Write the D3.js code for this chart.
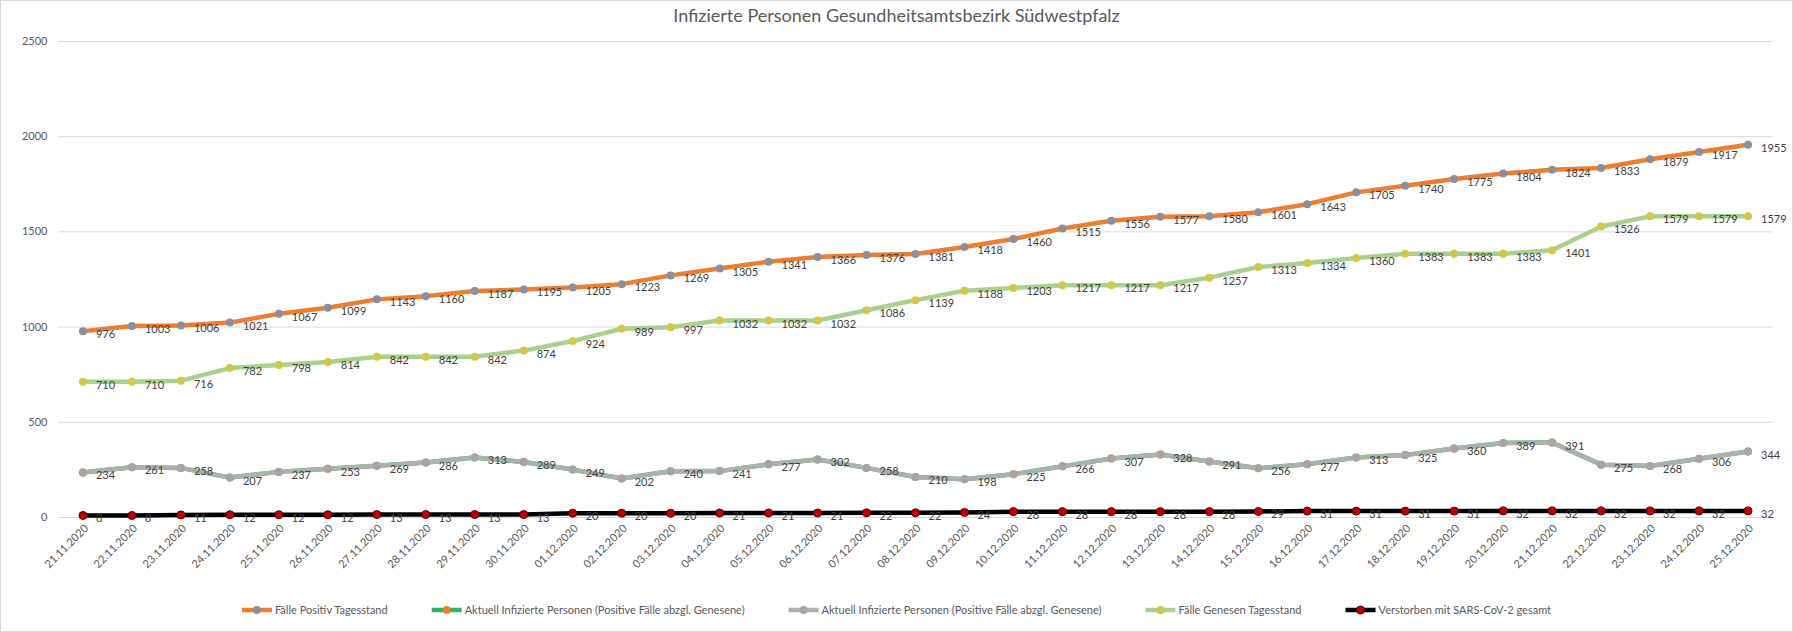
<!DOCTYPE html>
<html><head><meta charset="utf-8">
<script src="https://cdn.jsdelivr.net/npm/d3@7"></script>
<style>
html,body{margin:0;padding:0;background:#fff;}
svg{display:block;font-family:Lato,"Open Sans",sans-serif;}
</style></head>
<body><svg id="chart" width="1793" height="632"></svg>
<script>
const title = "Infizierte Personen Gesundheitsamtsbezirk Südwestpfalz";
const dates = ["21.11.2020","22.11.2020","23.11.2020","24.11.2020","25.11.2020","26.11.2020","27.11.2020","28.11.2020","29.11.2020","30.11.2020",
"01.12.2020","02.12.2020","03.12.2020","04.12.2020","05.12.2020","06.12.2020","07.12.2020","08.12.2020","09.12.2020","10.12.2020",
"11.12.2020","12.12.2020","13.12.2020","14.12.2020","15.12.2020","16.12.2020","17.12.2020","18.12.2020","19.12.2020","20.12.2020",
"21.12.2020","22.12.2020","23.12.2020","24.12.2020","25.12.2020"];
const positiv = [976,1003,1006,1021,1067,1099,1143,1160,1187,1195,1205,1223,1269,1305,1341,1366,1376,1381,1418,1460,1515,1556,1577,1580,1601,1643,1705,1740,1775,1804,1824,1833,1879,1917,1955];
const aktuell = [234,261,258,207,237,253,269,286,313,289,249,202,240,241,277,302,258,210,198,225,266,307,328,291,256,277,313,325,360,389,391,275,268,306,344];
const genesen = [710,710,716,782,798,814,842,842,842,874,924,989,997,1032,1032,1032,1086,1139,1188,1203,1217,1217,1217,1257,1313,1334,1360,1383,1383,1383,1401,1526,1579,1579,1579];
const verstorben = [8,8,11,12,12,12,13,13,13,13,20,20,20,21,21,21,22,22,24,28,28,28,28,28,29,31,31,31,31,32,32,32,32,32,32];
const yTicks = [0,500,1000,1500,2000,2500];
const seriesNames = ["Fälle Positiv Tagesstand",
 "Aktuell Infizierte Personen (Positive Fälle abzgl. Genesene)",
 "Aktuell Infizierte Personen (Positive Fälle abzgl. Genesene)",
 "Fälle Genesen Tagesstand",
 "Verstorben mit SARS-CoV-2 gesamt"];

const W = 1793, H = 632;
const pLeft = 58.5, pRight = 1772.5, pTop = 41, pBottom = 517;
const svg = d3.select("#chart");

svg.append("rect").attr("x",0.5).attr("y",0.5).attr("width",W-1).attr("height",H-1)
  .attr("fill","#fff").attr("stroke","#d9d9d9");

const x = d3.scaleBand().domain(dates).range([pLeft,pRight]);
const cx = d => x(d) + x.bandwidth()/2;
const y = d3.scaleLinear().domain([0,2500]).range([pBottom,pTop]);

svg.append("text").attr("x",W/2).attr("y",22).attr("text-anchor","middle")
  .attr("font-size",18).attr("fill","#595959").text(title);

const yAxis = d3.axisLeft(y).tickValues(yTicks).tickFormat(d3.format("d"))
  .tickSize(-(pRight-pLeft)).tickPadding(11);
const gy = svg.append("g").attr("transform",`translate(${pLeft},0)`).call(yAxis);
gy.select(".domain").remove();
gy.selectAll(".tick line").attr("stroke","#d9d9d9").attr("stroke-width",1);
gy.selectAll(".tick text").attr("fill","#595959").attr("font-size",11).attr("font-family","Lato,sans-serif");

const xAxis = d3.axisBottom(x).tickSize(0).tickPadding(0);
const gx = svg.append("g").attr("transform",`translate(0,${pBottom})`).call(xAxis);
gx.select(".domain").attr("stroke","#d9d9d9");
gx.selectAll(".tick text").attr("fill","#595959").attr("font-size",11).attr("font-family","Lato,sans-serif")
  .attr("text-anchor","end").attr("dy",0)
  .attr("transform","translate(6,12) rotate(-45)");

const series = [
  {name:seriesNames[1], data:aktuell, line:"#2fb463", marker:"#ed7d31", stroke:"none", labels:false},
  {name:seriesNames[2], data:aktuell, line:"#a9b2ab", marker:"#a5a5a5", stroke:"none", labels:true},
  {name:seriesNames[4], data:verstorben, line:"#000000", marker:"#c00000", stroke:"#5a0000", labels:true},
  {name:seriesNames[3], data:genesen, line:"#a9d18e", marker:"#d3c64a", stroke:"none", labels:true},
  {name:seriesNames[0], data:positiv, line:"#ed7d31", marker:"#8e8e9a", stroke:"none", labels:true}
];
const line = d3.line().x((v,i)=>cx(dates[i])).y(v=>y(v));

series.forEach(s=>{
  const g = svg.append("g");
  g.append("path").datum(s.data).attr("d",line).attr("fill","none")
   .attr("stroke",s.line).attr("stroke-width",4.5).attr("stroke-linejoin","round");
  g.selectAll("circle").data(s.data).join("circle")
   .attr("cx",(v,i)=>cx(dates[i])).attr("cy",v=>y(v)).attr("r",4)
   .attr("fill",s.marker).attr("stroke",s.stroke).attr("stroke-width",1);
  if(s.labels){
    g.selectAll("text").data(s.data).join("text")
     .attr("x",(v,i)=>cx(dates[i]) + 13)
     .attr("y",v=>y(v) + 7)
     .attr("font-size",11).attr("fill","#404040").text(v=>v);
  }
});

const legendOrder = [
  {name:seriesNames[0], line:"#ed7d31", marker:"#8e8e9a", stroke:"none"},
  {name:seriesNames[1], line:"#2fb463", marker:"#ed7d31", stroke:"none"},
  {name:seriesNames[2], line:"#a9b2ab", marker:"#a5a5a5", stroke:"none"},
  {name:seriesNames[3], line:"#a9d18e", marker:"#d3c64a", stroke:"none"},
  {name:seriesNames[4], line:"#000000", marker:"#c00000", stroke:"#5a0000"}
];
const lg = svg.append("g").attr("font-size",11).attr("fill","#595959");
const ly = 610;
const tmp = lg.append("g");
const widths = legendOrder.map(d=>{const t=tmp.append("text").text(d.name); return t.node().getComputedTextLength();});
tmp.remove();
const swatch = 30, gap = 3, itemGap = 44;
const total = d3.sum(widths) + legendOrder.length*(swatch+gap) + itemGap*(legendOrder.length-1);
let lx = (W-total)/2;
legendOrder.forEach((d,i)=>{
  const g = lg.append("g").attr("transform",`translate(${lx},${ly})`);
  g.append("line").attr("x1",0).attr("x2",swatch).attr("y1",0).attr("y2",0)
   .attr("stroke",d.line).attr("stroke-width",4.5);
  g.append("circle").attr("cx",swatch/2).attr("cy",0).attr("r",4).attr("fill",d.marker).attr("stroke",d.stroke);
  g.append("text").attr("x",swatch+gap).attr("y",4).attr("fill","#595959").text(d.name);
  lx += swatch+gap+widths[i]+itemGap;
});
</script></body></html>
